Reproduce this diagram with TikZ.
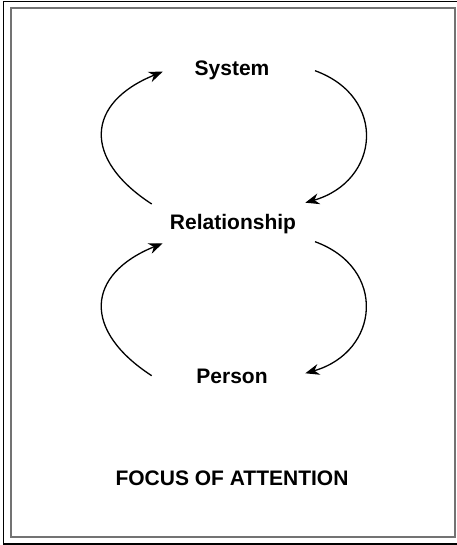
\documentclass[tikz,border=0pt]{standalone}
\usepackage{fontspec}
\setmainfont{Liberation Sans}
\usetikzlibrary{arrows.meta}
\begin{document}
\begin{tikzpicture}[x=0.5pt,y=0.5pt,
    lbl/.style={anchor=base,font=\bfseries\fontsize{10.5}{12}\selectfont},
    cyc/.style={line width=0.65pt,-{Stealth[length=7pt,width=5.5pt]}}]
    \useasboundingbox (0,0) rectangle (456,545);
    \draw [line width=0.8pt] (3.5,1) rectangle (470,543.5);
    \draw [line width=1pt,black!55] (11,8) rectangle (454.5,537);
    \node [lbl] (sys) at (232,469) {System};
    \node [lbl] (rel) at (233,315) {Relationship};
    \node [lbl] (per) at (232,161) {Person};
    \node [lbl] (foc) at (232,59) {FOCUS OF ATTENTION};
    \draw [cyc] ([shift={(-81.3,26)}]rel.base) to [out=147,in=202,looseness=1.6] ([shift={(-69.3,4.3)}]sys.base);
    \draw [cyc] ([shift={(83,5.3)}]sys.base) to [out=-20,in=16,looseness=1.5] ([shift={(72.3,27.3)}]rel.base);
    \draw [cyc] ([shift={(-80.3,8.3)}]per.base) to [out=147,in=202,looseness=1.6] ([shift={(-70.3,-13.3)}]rel.base);
    \draw [cyc] ([shift={(82,-11.7)}]rel.base) to [out=-20,in=16,looseness=1.5] ([shift={(73.3,10.7)}]per.base);
\end{tikzpicture}
\end{document}
